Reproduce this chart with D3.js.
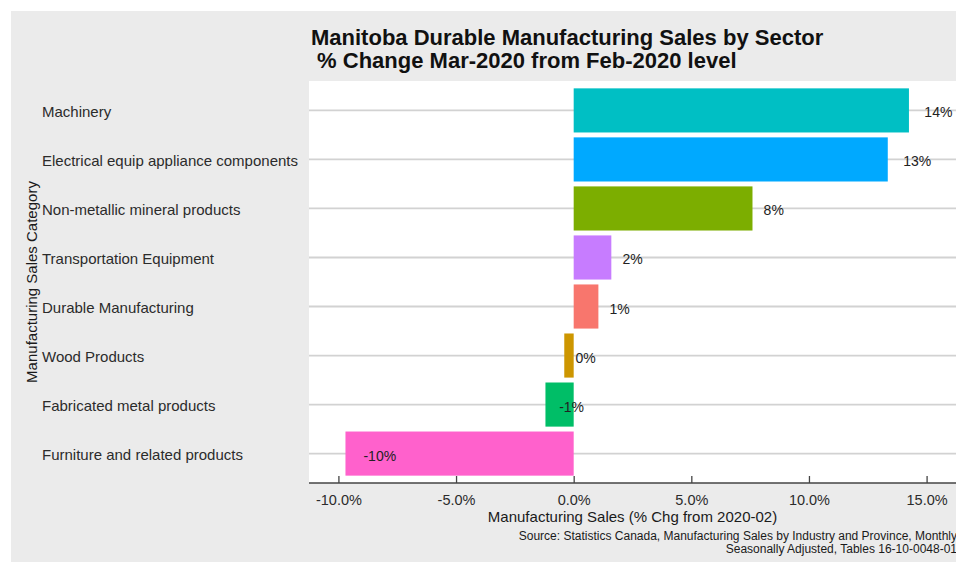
<!DOCTYPE html>
<html>
<head>
<meta charset="utf-8">
<script src="https://cdn.jsdelivr.net/npm/d3@7"></script>
<style>
  html, body { margin: 0; padding: 0; background: #ffffff; }
  svg { display: block; font-family: "Liberation Sans", Arial, sans-serif; }
</style>
</head>
<body>
<svg id="chart" width="956" height="562"></svg>
<script>
// Manitoba durable manufacturing sales, % change Mar-2020 vs Feb-2020
const categories = [
  "Machinery",
  "Electrical equip appliance components",
  "Non-metallic mineral products",
  "Transportation Equipment",
  "Durable Manufacturing",
  "Wood Products",
  "Fabricated metal products",
  "Furniture and related products"
];
const pctChange = [14.25, 13.35, 7.6, 1.6, 1.05, -0.4, -1.2, -9.7];
const barColors = ["#00BFC4", "#00A9FF", "#7CAE00", "#C77CFF", "#F8766D", "#CD9600", "#00BE67", "#FF61CC"];
const xTicks = [-10, -5, 0, 5, 10, 15];
const xLimits = [-10, 15];

const titleLines = ["Manitoba Durable Manufacturing Sales by Sector", " % Change Mar-2020 from Feb-2020 level"];
const xTitle = "Manufacturing Sales (% Chg from 2020-02)";
const yTitle = "Manufacturing Sales Category";
const captionLines = [
  "Source: Statistics Canada, Manufacturing Sales by Industry and Province, Monthly",
  "Seasonally Adjusted, Tables 16-10-0048-01"
];

const data = categories.map((c, i) => ({ cat: c, value: pctChange[i], color: barColors[i] }));

const svg = d3.select("#chart");
const W = 956, H = 562;
const panel = { left: 309, top: 81, right: 956, bottom: 483 };

// plot background
svg.append("rect").attr("x", 11).attr("y", 11).attr("width", W - 11).attr("height", H - 11).attr("fill", "#ebebeb");
svg.append("rect")
  .attr("x", panel.left).attr("y", panel.top)
  .attr("width", panel.right - panel.left).attr("height", panel.bottom - panel.top)
  .attr("fill", "#ffffff");

// scales (5% expansion around the limits)
const span = xLimits[1] - xLimits[0];
const x = d3.scaleLinear()
  .domain([xLimits[0] - 0.05 * span, xLimits[1] + 0.05 * span])
  .range([panel.left, panel.right]);
const y = d3.scaleBand()
  .domain(categories)
  .range([panel.top, panel.bottom])
  .paddingInner(0.1)
  .paddingOuter(0.15);
const yMid = c => y(c) + y.bandwidth() / 2;

// horizontal gridlines at each category
svg.append("g").selectAll("line").data(categories).join("line")
  .attr("x1", panel.left).attr("x2", panel.right)
  .attr("y1", d => yMid(d)).attr("y2", d => yMid(d))
  .attr("stroke", "#d2d2d2").attr("stroke-width", 1.8);

// bars
svg.append("g").selectAll("rect").data(data).join("rect")
  .attr("x", d => x(Math.min(0, d.value)))
  .attr("width", d => Math.abs(x(d.value) - x(0)))
  .attr("y", d => y(d.cat))
  .attr("height", y.bandwidth())
  .attr("fill", d => d.color);

// value labels, shifted right by half their width
const labels = svg.append("g").selectAll("text").data(data).join("text")
  .attr("y", d => yMid(d.cat) + 2)
  .attr("dominant-baseline", "central")
  .attr("font-size", 14)
  .attr("fill", "#222")
  .text(d => `${Math.round(d.value) || 0}%`);
labels.each(function (d) {
  const w = this.getComputedTextLength();
  d3.select(this).attr("x", x(d.value) + 0.55 * w);
});

// x axis
const xAxis = d3.axisBottom(x)
  .tickValues(xTicks)
  .tickFormat(v => v.toFixed(1) + "%")
  .tickSize(-7)
  .tickPadding(12);
const gx = svg.append("g").attr("transform", `translate(0,${panel.bottom})`).call(xAxis);
gx.select(".domain").remove();
gx.selectAll(".tick line").attr("stroke", "#444").attr("stroke-width", 1.3);
gx.selectAll(".tick text")
  .attr("font-size", 14.5)
  .attr("fill", "#2b2b2b")
  .attr("font-family", "Liberation Sans, Arial, sans-serif");
svg.append("line")
  .attr("x1", panel.left).attr("x2", panel.right)
  .attr("y1", panel.bottom).attr("y2", panel.bottom)
  .attr("stroke", "#444").attr("stroke-width", 1.6);

// category labels, left aligned
svg.append("g").selectAll("text").data(categories).join("text")
  .attr("x", 42)
  .attr("y", d => yMid(d) + 1)
  .attr("dominant-baseline", "central")
  .attr("font-size", 15)
  .attr("fill", "#2b2b2b")
  .text(d => d);

// axis titles
svg.append("text")
  .attr("x", (panel.left + panel.right) / 2)
  .attr("y", 522)
  .attr("text-anchor", "middle")
  .attr("font-size", 15)
  .attr("fill", "#1a1a1a")
  .text(xTitle);
svg.append("text")
  .attr("transform", `translate(37,${(panel.top + panel.bottom) / 2}) rotate(-90)`)
  .attr("text-anchor", "middle")
  .attr("font-size", 15)
  .attr("fill", "#1a1a1a")
  .text(yTitle);

// title
svg.append("g").selectAll("text").data(titleLines).join("text")
  .attr("x", 311)
  .attr("y", (d, i) => 45 + i * 23)
  .attr("font-size", 22)
  .attr("font-weight", "bold")
  .attr("fill", "#111")
  .style("white-space", "pre")
  .text(d => d);

// caption, right aligned
svg.append("g").selectAll("text").data(captionLines).join("text")
  .attr("x", 957)
  .attr("y", (d, i) => 540 + i * 13)
  .attr("text-anchor", "end")
  .attr("font-size", 12)
  .attr("fill", "#1a1a1a")
  .text(d => d);
</script>
</body>
</html>
